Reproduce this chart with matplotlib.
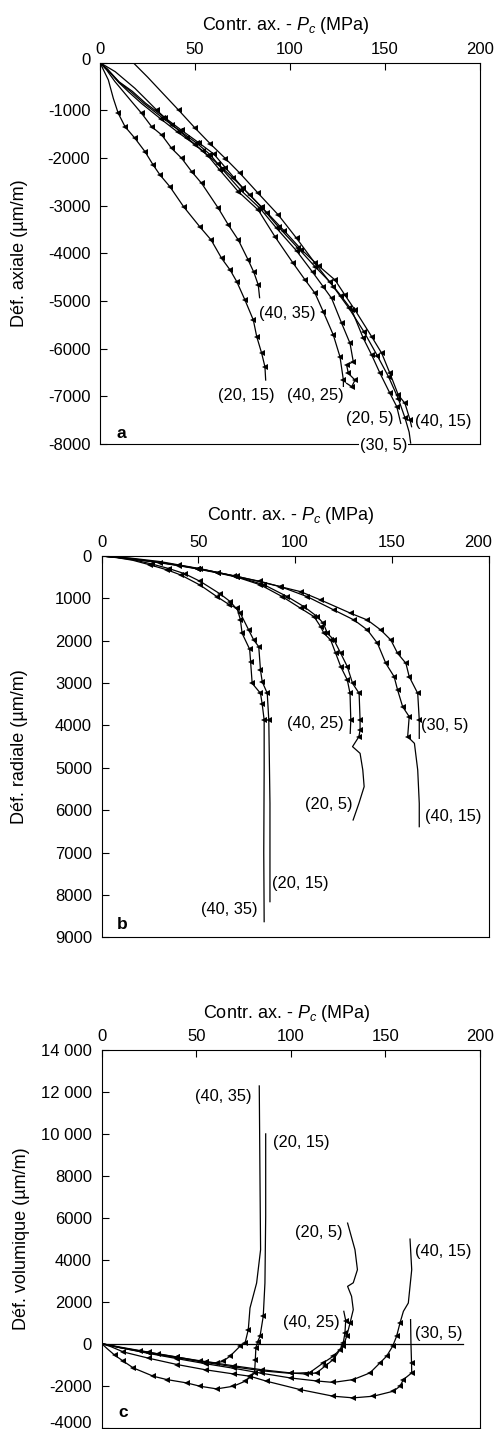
import matplotlib
matplotlib.use('Agg')
import matplotlib.pyplot as plt
import matplotlib.transforms as mtransforms

plt.rcParams['font.family'] = ['Liberation Sans', 'DejaVu Sans']
plt.rcParams['mathtext.fontset'] = 'custom'
plt.rcParams['mathtext.rm'] = 'Liberation Sans'
plt.rcParams['mathtext.it'] = 'Liberation Sans:italic'
plt.rcParams['axes.unicode_minus'] = False

# ---------------- data ----------------
x_ticks = [0, 50, 100, 150, 200]
x_tick_labels = ['0', '50', '100', '150', '200']
x_label = 'Contr. ax. - $P_c$ (MPa)'

# Panel a : axial strain
a_y_ticks = [0, -1000, -2000, -3000, -4000, -5000, -6000, -7000, -8000]
a_y_tick_labels = ['0', '-1000', '-2000', '-3000', '-4000', '-5000', '-6000', '-7000', '-8000']
a_ylabel = 'Déf. axiale (µm/m)'

a_20_15_x = [0, 4.4, 7, 9.6, 13.2, 18.4, 23.7, 28, 31.6, 36.8, 44, 52.5, 58.5, 64, 68.5, 72, 76.3, 80.7, 82.5, 85.1, 86.8, 87.2]
a_20_15_y = [0, -363, -747, -1062, -1343, -1586, -1867, -2147, -2356, -2602, -3021, -3441, -3720, -4104, -4350, -4595, -4979, -5399, -5749, -6098, -6378, -6658]

a_40_35_x = [0, 3.5, 7.9, 12.3, 16.7, 21.9, 27.2, 32.5, 37.7, 43, 48.3, 53.5, 62.3, 67.5, 72.8, 78, 81, 83.3, 84]
a_40_35_y = [0, -153, -398, -608, -818, -1062, -1343, -1517, -1797, -2006, -2287, -2531, -3055, -3400, -3720, -4140, -4400, -4664, -4930]

a_40_25_x = [0, 4, 10, 15, 22, 32, 41, 50, 57, 63, 72.8, 83.3, 92.1, 101.7, 108, 113.2, 117.5, 122.8, 126.3, 128.1, 128.1]
a_40_25_y = [0, -150, -420, -610, -860, -1180, -1460, -1720, -1960, -2250, -2706, -3091, -3651, -4209, -4560, -4839, -5224, -5713, -6169, -6658, -6832]

a_loop_x = [0, 4, 10, 16, 23, 33, 42, 51, 58, 64, 74, 84.2, 93, 103.5, 112, 117.5, 121.9, 127.2, 131.6, 133.3, 129.8, 130.7, 134.2, 132.5, 129.8]
a_loop_y = [0, -145, -410, -600, -850, -1160, -1430, -1690, -1930, -2220, -2671, -3055, -3475, -3950, -4400, -4700, -4943, -5468, -5888, -6274, -6343, -6518, -6658, -6798, -6727]

a_20_5_x = [0, 4, 10, 17, 24, 34, 43, 52, 60, 66, 75, 85, 94, 104, 113.2, 121, 127, 132.5, 138.6, 143, 147.4, 152.6, 156.2, 158.3]
a_20_5_y = [0, -140, -400, -600, -850, -1150, -1420, -1680, -1920, -2200, -2620, -3030, -3450, -3880, -4280, -4600, -4900, -5189, -5783, -6133, -6518, -6937, -7217, -7567]

a_40_15_x = [0, 8, 18.4, 23.7, 30, 38, 46, 54, 62, 70, 79, 88, 97, 106, 115, 123.7, 129, 134.2, 143, 148.3, 152.6, 157, 160.5, 163.2, 164]
a_40_15_y = [0, -188, -538, -748, -1000, -1300, -1580, -1850, -2120, -2420, -2780, -3150, -3530, -3920, -4260, -4559, -4880, -5189, -5748, -6098, -6518, -6972, -7147, -7497, -7637]

a_30_5_x = [17.5, 25, 33, 41.5, 50, 58, 66, 73.7, 83.3, 93.9, 103.5, 113.2, 122.8, 131, 139, 146, 152, 157, 160.5, 162.7, 163.5]
a_30_5_y = [0, -300, -640, -1000, -1370, -1700, -2010, -2321, -2741, -3196, -3685, -4209, -4699, -5150, -5650, -6150, -6600, -7050, -7450, -7750, -7980]

a_labels = ['(40, 35)', '(20, 15)', '(40, 25)', '(20, 5)', '(40, 15)', '(30, 5)']
a_label_x = [98.6, 76.8, 113.2, 142.1, 180.7, 149.1]
a_label_y = [-5258, -6972, -6972, -7461, -7532, -8021]

# Panel b : radial strain
b_y_ticks = [0, 1000, 2000, 3000, 4000, 5000, 6000, 7000, 8000, 9000]
b_y_tick_labels = ['0', '1000', '2000', '3000', '4000', '5000', '6000', '7000', '8000', '9000']
b_ylabel = 'Déf. radiale (µm/m)'

b_40_35_x = [0, 8, 16, 25, 34, 41, 51, 59.6, 66, 70, 71.7, 72.6, 76.5, 77, 77.8, 82.1, 83, 84, 84, 83.8, 84]
b_40_35_y = [0, 40, 100, 210, 330, 450, 690, 960, 1150, 1235, 1500, 1825, 2200, 2500, 3005, 3241, 3500, 3871, 5000, 7000, 8631]

b_20_15_x = [0, 8, 17, 26, 35, 43, 51, 61.4, 66.5, 71.7, 76, 78.6, 81.2, 82.1, 83, 85.6, 86.4, 87, 87, 87]
b_20_15_y = [0, 35, 95, 190, 300, 420, 600, 900, 1078, 1353, 1746, 1983, 2140, 2691, 2967, 3241, 3871, 5838, 7000, 8159]

b_40_25_x = [0, 10, 20, 30, 40, 50, 60, 70, 82, 93.4, 102.9, 109.8, 113.2, 114.9, 118.4, 121, 123.6, 127, 128.4, 128.8, 128.5]
b_40_25_y = [0, 40, 100, 160, 230, 310, 400, 500, 680, 960, 1235, 1432, 1668, 1825, 1983, 2297, 2612, 2927, 3241, 3871, 4186]

b_20_5_x = [0, 10, 20, 30, 40, 50, 60, 70, 84, 96, 104.6, 111.5, 114.6, 116.7, 120.1, 123.6, 127, 129.7, 133.1, 133.6, 133.6, 133, 129.7, 133.6, 135, 135.7, 133, 130]
b_20_5_y = [0, 40, 95, 150, 220, 300, 390, 490, 680, 960, 1196, 1432, 1589, 1825, 1983, 2297, 2612, 3005, 3241, 3871, 4107, 4264, 4500, 4658, 5051, 5444, 5838, 6231]

b_30_5_x = [0, 15, 30, 51, 68.3, 82.1, 92, 102.9, 113.2, 128.8, 137.4, 144.3, 149.5, 153, 157.3, 159, 163.4, 164.2, 164.2]
b_30_5_y = [0, 50, 130, 300, 470, 600, 720, 842, 1038, 1353, 1511, 1746, 1983, 2297, 2533, 2848, 3241, 3871, 4304]

b_40_15_x = [0, 15, 30, 50, 70, 92.5, 106.3, 120.1, 130.5, 137.4, 142.6, 146.9, 151.2, 153, 155.6, 159, 158.2, 161.7, 163.4, 164.2, 164.2]
b_40_15_y = [0, 60, 150, 300, 480, 724, 960, 1275, 1511, 1746, 2061, 2533, 2848, 3163, 3556, 3792, 4264, 4422, 5051, 5838, 6389]

b_labels = ['(40, 25)', '(30, 5)', '(20, 5)', '(40, 15)', '(20, 15)', '(40, 35)']
b_label_x = [110.6, 177.2, 117.5, 181.5, 102.9, 65.7]
b_label_y = [3950, 4012, 5877, 6152, 7725, 8355]

# Panel c : volumetric strain
c_y_ticks = [-4000, -2000, 0, 2000, 4000, 6000, 8000, 10000, 12000, 14000]
c_y_tick_labels = ['-4000', '-2000', '0', '2000', '4000', '6000', '8000', '10 000', '12 000', '14 000']
c_ylabel = 'Déf. volumique (µm/m)'

c_40_35_x = [0, 10, 20, 30, 40, 52, 60.8, 64, 67.8, 73.1, 75.8, 77.5, 78.4, 81.9, 84, 83.7, 83.3]
c_40_35_y = [0, -170, -330, -490, -640, -841, -920, -850, -603, -127, 32, 667, 1698, 2889, 4476, 7651, 12286]

c_20_15_x = [0, 3, 7, 11.5, 16.7, 27.3, 34.4, 44.9, 52, 60.8, 69.6, 75.8, 78.5, 80.8, 81.2, 81.5, 82.5, 83.7, 85.4, 86.3, 86.7, 86.7]
c_20_15_y = [0, -250, -560, -841, -1159, -1556, -1714, -1873, -2032, -2159, -2032, -1794, -1600, -1400, -800, -200, 100, 349, 1302, 2889, 6063, 10000]

c_40_25_x = [0, 10, 25, 40, 55, 70, 85, 100, 108, 113.6, 118, 122.4, 126, 127.7, 128.6, 129, 128]
c_40_25_y = [0, -190, -420, -650, -860, -1060, -1250, -1400, -1450, -1397, -1079, -762, -286, 32, 508, 1100, 1540]

c_20_5_x = [0, 10, 25, 40, 55, 70, 85, 100, 110, 117.1, 122.4, 127.7, 129.5, 131.3, 133, 132.1, 130, 133, 135.2, 133.9, 130]
c_20_5_y = [0, -200, -450, -680, -900, -1110, -1300, -1420, -1380, -921, -603, -127, 349, 984, 1619, 2254, 2730, 2900, 3524, 4476, 5746]

c_40_15_x = [0, 10, 25, 40, 55, 70, 85, 100, 113.6, 122.4, 133, 141.8, 147.1, 150.6, 153.8, 155.9, 157.7, 159.5, 162.1, 163.9, 163]
c_40_15_y = [0, -200, -470, -720, -960, -1180, -1420, -1640, -1780, -1850, -1714, -1397, -921, -603, -127, 349, 984, 1540, 1936, 3524, 4984]

c_30_5_x = [0, 5, 11.5, 25, 40, 55, 70, 78.4, 87.2, 104.8, 122.4, 133, 143.6, 154.2, 157.7, 159.5, 163.9, 163.8, 163.5, 163.3]
c_30_5_y = [0, -150, -400, -700, -1000, -1250, -1450, -1556, -1794, -2190, -2508, -2587, -2508, -2270, -2032, -1714, -1397, -921, 0, 1143]

c_zero_line_x = [0, 191]
c_zero_line_y = [0, 0]

c_labels = ['(40, 35)', '(20, 15)', '(20, 5)', '(40, 15)', '(40, 25)', '(30, 5)']
c_label_x = [64, 105.3, 115, 180.5, 111, 177.9]
c_label_y = [11776, 9586, 5300, 4395, 986, 476]

panel_letters = ['a', 'b', 'c']

# ---------------- figure ----------------
W, H = 498, 1429
fig = plt.figure(figsize=(W / 100, H / 100), dpi=100)


def axes_px(l, t, r, b):
    return fig.add_axes([l / W, 1 - b / H, (r - l) / W, (b - t) / H])


LW = 0.9
TICK_FS = 12
AXLAB_FS = 13
LAB_FS = 11.8


def style_axes(ax, yticks, ylabels, ylabel, ylabel_x, xlabel_y):
    ax.set_xlim(0, 200)
    ax.xaxis.tick_top()
    ax.xaxis.set_label_position('top')
    ax.set_xticks(x_ticks)
    ax.set_xticklabels(x_tick_labels)
    ax.set_yticks(yticks)
    ax.set_yticklabels(ylabels)
    ax.tick_params(axis='x', direction='in', length=5, width=0.8, top=True, bottom=False,
                   labelsize=TICK_FS, pad=4)
    ax.tick_params(axis='y', direction='in', length=5, width=0.8, left=True, right=False,
                   labelsize=TICK_FS, pad=7)
    for s in ax.spines.values():
        s.set_linewidth(0.8)
    ax.set_xlabel(x_label, fontsize=AXLAB_FS)
    ax.xaxis.set_label_coords(0.49, xlabel_y)
    ax.set_ylabel(ylabel, fontsize=AXLAB_FS)
    ax.yaxis.set_label_coords(ylabel_x, 0.5)


def curve(ax, xs, ys, mark_idx):
    ax.plot(xs, ys, color='black', lw=LW, marker='<', markersize=4.3,
            markeredgewidth=0, markevery=mark_idx, zorder=3)


def shift_label(lbl, dx_px, dy_px):
    lbl.set_transform(lbl.get_transform() +
                      mtransforms.ScaledTranslation(dx_px / 100, dy_px / 100, fig.dpi_scale_trans))


# ----- panel a -----
ax_a = axes_px(100, 62.7, 480, 444)
a_curves = [(a_20_15_x, a_20_15_y), (a_40_35_x, a_40_35_y), (a_40_25_x, a_40_25_y),
            (a_loop_x, a_loop_y), (a_20_5_x, a_20_5_y), (a_40_15_x, a_40_15_y),
            (a_30_5_x, a_30_5_y)]
for xs, ys in a_curves:
    idx = [i for i in range(2, len(xs) - 1) if ys[i] < -900 and ys[i] > -7700]
    curve(ax_a, xs, ys, idx)
ax_a.set_ylim(-8000, 0)
style_axes(ax_a, a_y_ticks, a_y_tick_labels, a_ylabel, -0.19, 1.086)
for t, x, y in zip(a_labels, a_label_x, a_label_y):
    ax_a.text(x, y, t, fontsize=LAB_FS, ha='center', va='center', zorder=5,
              bbox=dict(facecolor='white', edgecolor='none', pad=0.5))
ax_a.text(11.4, -7776, panel_letters[0], fontsize=12.5, fontweight='bold', ha='center', va='center')
shift_label(ax_a.get_yticklabels()[0], 0, 4)

# ----- panel b -----
ax_b = axes_px(101.7, 556, 488.5, 937.3)
b_curves = [(b_40_35_x, b_40_35_y), (b_20_15_x, b_20_15_y), (b_40_25_x, b_40_25_y),
            (b_20_5_x, b_20_5_y), (b_30_5_x, b_30_5_y), (b_40_15_x, b_40_15_y)]
for xs, ys in b_curves:
    idx = [i for i in range(2, len(xs) - 1) if 150 < ys[i] < 4300]
    curve(ax_b, xs, ys, idx)
ax_b.set_ylim(9000, 0)
style_axes(ax_b, b_y_ticks, b_y_tick_labels, b_ylabel, -0.19, 1.094)
for t, x, y in zip(b_labels, b_label_x, b_label_y):
    ax_b.text(x, y, t, fontsize=LAB_FS, ha='center', va='center', zorder=5)
ax_b.text(10.4, 8709, panel_letters[1], fontsize=12.5, fontweight='bold', ha='center', va='center')
shift_label(ax_b.get_xticklabels()[-1], -10, 0)

# ----- panel c -----
ax_c = axes_px(101.7, 1050, 480, 1427.5)
ax_c.plot(c_zero_line_x, c_zero_line_y, color='black', lw=LW)
c_curves = [(c_40_35_x, c_40_35_y), (c_20_15_x, c_20_15_y), (c_40_25_x, c_40_25_y),
            (c_20_5_x, c_20_5_y), (c_40_15_x, c_40_15_y), (c_30_5_x, c_30_5_y)]
for xs, ys in c_curves:
    idx = [i for i in range(2, len(xs) - 1) if -3000 < ys[i] < 1500 and ys[i] != 0]
    curve(ax_c, xs, ys, idx)
ax_c.set_ylim(-4000, 14000)
style_axes(ax_c, c_y_ticks, c_y_tick_labels, c_ylabel, -0.19, 1.084)
for t, x, y in zip(c_labels, c_label_x, c_label_y):
    ax_c.text(x, y, t, fontsize=LAB_FS, ha='center', va='center', zorder=5)
ax_c.text(11.3, -3286, panel_letters[2], fontsize=12.5, fontweight='bold', ha='center', va='center')
shift_label(ax_c.get_yticklabels()[0], 0, 6)

fig.savefig('out.png', dpi=100)
